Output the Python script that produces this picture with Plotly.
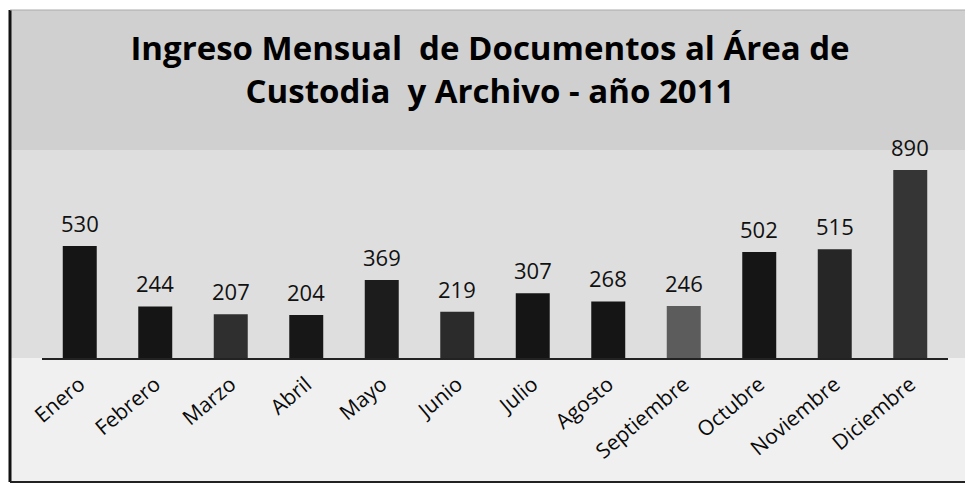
import plotly.graph_objects as go

months = ["Enero", "Febrero", "Marzo", "Abril", "Mayo", "Junio", "Julio",
          "Agosto", "Septiembre", "Octubre", "Noviembre", "Diciembre"]
documentos = [530, 244, 207, 204, 369, 219, 307, 268, 246, 502, 515, 890]
bar_colors = ["#151515", "#151515", "#2f2f2f", "#171717", "#1c1c1c", "#2b2b2b",
              "#151515", "#151515", "#5c5c5c", "#151515", "#262626", "#353535"]

W, H = 965, 484
ML, MR, MT, MB = 42, 17, 150, 126
PW, PH = W - ML - MR, H - MT - MB


def px_x(px):
    return (px - ML) / PW


def px_y(py):
    return (H - MB - py) / PH


fig = go.Figure()
fig.add_trace(go.Bar(
    x=months, y=documentos,
    marker=dict(color=bar_colors, line=dict(width=0)),
    width=0.45,
    hoverinfo="x+y",
))

for m, v in zip(months, documentos):
    fig.add_annotation(x=m, y=v, text=str(v), showarrow=False,
                       xref="x", yref="y", yanchor="bottom", yshift=6,
                       font=dict(family="Open Sans", size=22, color="#111111"))

shapes = [
    dict(type="rect", xref="paper", yref="paper", x0=px_x(10), x1=px_x(W), y0=px_y(10), y1=px_y(150),
         fillcolor="#d0d0d0", line=dict(width=0), layer="below"),
    dict(type="rect", xref="paper", yref="paper", x0=px_x(10), x1=px_x(W), y0=px_y(150), y1=px_y(358),
         fillcolor="#dedede", line=dict(width=0), layer="below"),
    dict(type="rect", xref="paper", yref="paper", x0=px_x(10), x1=px_x(W), y0=px_y(358), y1=px_y(482),
         fillcolor="#f0f0f0", line=dict(width=0), layer="below"),
    dict(type="line", xref="paper", yref="paper", x0=px_x(10), x1=px_x(10), y0=px_y(10), y1=px_y(482),
         line=dict(color="#111111", width=3)),
    dict(type="line", xref="paper", yref="paper", x0=px_x(10), x1=px_x(W), y0=px_y(482), y1=px_y(482),
         line=dict(color="#222222", width=2)),
    dict(type="line", xref="paper", yref="paper", x0=px_x(10), x1=px_x(W), y0=px_y(10), y1=px_y(10),
         line=dict(color="#aaaaaa", width=1)),
]

fig.update_layout(
    width=W, height=H,
    margin=dict(l=ML, r=MR, t=MT, b=MB, pad=0, autoexpand=False),
    paper_bgcolor="#ffffff",
    plot_bgcolor="rgba(0,0,0,0)",
    showlegend=False,
    shapes=shapes,
    title=dict(
        text="Ingreso Mensual  de Documentos al Área de<br>Custodia  y Archivo - año 2011",
        x=490 / W, xanchor="center", xref="container",
        y=1 - 60 / H, yanchor="top", yref="container",
        font=dict(family="Open Sans", size=33, color="#000000", weight="bold"),
    ),
    xaxis=dict(
        showgrid=False, showline=True, linecolor="#222222", linewidth=2,
        tickangle=-40, ticks="", ticklabelstandoff=4, automargin=False,
        tickfont=dict(family="Open Sans", size=21, color="#0a0a0a"),
    ),
    yaxis=dict(range=[0, 985], visible=False, showgrid=False, zeroline=False,
               automargin=False),
    font=dict(family="Open Sans"),
)

fig.write_html(
    "out.html",
    config={"displayModeBar": False},
    post_script="document.body.style.margin='0';document.body.style.padding='0';"
                "document.documentElement.style.overflow='hidden';",
)
